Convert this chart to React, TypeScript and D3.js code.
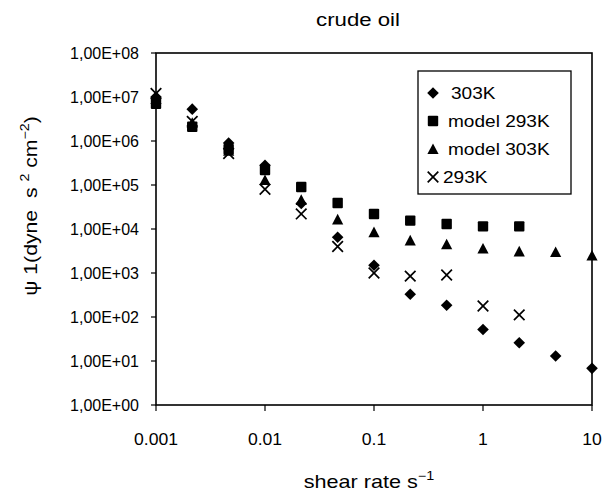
import React from "react";
import * as d3 from "d3";

const shearRates = [0.001, 0.00215, 0.00464, 0.01, 0.0215, 0.0464, 0.1, 0.215, 0.464, 1, 2.15, 4.64, 10];
const data303K = [1.0e7, 5.3e6, 9.0e5, 2.8e5, 3.8e4, 6.5e3, 1.5e3, 330, 185, 52, 26, 13, 6.8];
const model293K = [7.0e6, 2.1e6, 6.5e5, 2.2e5, 9.0e4, 3.9e4, 2.2e4, 1.55e4, 1.3e4, 1.15e4, 1.15e4];
const model303K = [9.0e6, 2.6e6, 6.0e5, 1.3e5, 4.6e4, 1.65e4, 8.5e3, 5.5e3, 4.5e3, 3.6e3, 3.1e3, 3.0e3, 2.5e3];
const data293K = [1.2e7, 2.8e6, 5.2e5, 8.0e4, 2.2e4, 4.0e3, 1.0e3, 850, 900, 178, 112];
const xTicks = [0.001, 0.01, 0.1, 1, 10];
const xTickLabels = ["0.001", "0.01", "0.1", "1", "10"];
const yTicks = [1, 10, 100, 1e3, 1e4, 1e5, 1e6, 1e7, 1e8];
const yTickLabels = ["1,00E+00", "1,00E+01", "1,00E+02", "1,00E+03", "1,00E+04", "1,00E+05", "1,00E+06", "1,00E+07", "1,00E+08"];
const legendLabels = ["303K", "model 293K", "model 303K", "293K"];

const FONT = "'Liberation Sans', Arial, sans-serif";

function Marker({ kind, x, y }: { kind: string; x: number; y: number }) {
  if (kind === "diamond") {
    const s = 5.8;
    return <path d={`M${x},${y - s}L${x + s},${y}L${x},${y + s}L${x - s},${y}Z`} fill="#000" />;
  }
  if (kind === "square") {
    const s = 5.2;
    return <rect x={x - s} y={y - s} width={2 * s} height={2 * s} fill="#000" rx={1} />;
  }
  if (kind === "triangle") {
    const s = 5.6;
    return <path d={`M${x},${y - s}L${x + s},${y + s * 0.9}L${x - s},${y + s * 0.9}Z`} fill="#000" />;
  }
  const s = 5.3;
  return (
    <path d={`M${x - s},${y - s}L${x + s},${y + s}M${x - s},${y + s}L${x + s},${y - s}`} stroke="#000" strokeWidth={1.7} fill="none" />
  );
}

export default function App() {
  const x = d3.scaleLog().domain([0.001, 10]).range([156, 592]);
  const y = d3.scaleLog().domain([1, 1e8]).range([405, 53]);

  const series = [
    { kind: "diamond", values: data303K },
    { kind: "square", values: model293K },
    { kind: "triangle", values: model303K },
    { kind: "x", values: data293K },
  ];

  const rowYs = [93, 121, 149, 177];
  const textXs = [451, 448, 448, 443];

  return (
    <svg width={611} height={491} style={{ position: "absolute", left: 0, top: 0, background: "#fff" }} fontFamily={FONT}>
      <rect x={0} y={0} width={611} height={491} fill="#fff" />
      <g transform="translate(358,26) scale(1.2,1)">
        <text x={0} y={0} textAnchor="middle" fontSize={18.5}>crude oil</text>
      </g>

      {/* frame */}
      <rect x={x(0.001)} y={y(1e8)} width={x(10) - x(0.001)} height={y(1) - y(1e8)} fill="none" stroke="#000" strokeWidth={1.6} />

      {/* y ticks */}
      {yTicks.map((t, i) => (
        <g key={"y" + i}>
          <line x1={x(0.001) - 5} x2={x(0.001)} y1={y(t)} y2={y(t)} stroke="#000" strokeWidth={1.2} />
          <text x={139} y={y(t) + 5.8} textAnchor="end" fontSize={16}>{yTickLabels[i]}</text>
        </g>
      ))}

      {/* x ticks */}
      {xTicks.map((t, i) => (
        <g key={"x" + i}>
          <line x1={x(t)} x2={x(t)} y1={y(1)} y2={y(1) + 6} stroke="#000" strokeWidth={1.2} />
          <g transform={`translate(${x(t)},445) scale(1.1,1)`}>
            <text x={0} y={0} textAnchor="middle" fontSize={16}>{xTickLabels[i]}</text>
          </g>
        </g>
      ))}

      <g transform="translate(369,488) scale(1.2,1)">
        <text x={0} y={0} textAnchor="middle" fontSize={18}>
          shear rate s<tspan dy={-8} fontSize={12}>−1</tspan>
        </text>
      </g>

      <g transform="translate(37,206) rotate(-90) scale(1.18,1)">
        <text x={0} y={0} textAnchor="middle" fontSize={18} style={{ whiteSpace: "pre" }}>
          ψ 1(dyne  s <tspan dy={-8} fontSize={12}>2</tspan><tspan dy={8}> cm</tspan><tspan dy={-8} fontSize={12}>−2</tspan><tspan dy={8}>)</tspan>
        </text>
      </g>

      {series.map((s, si) =>
        s.values.map((v, i) => <Marker key={si + "-" + i} kind={s.kind} x={x(shearRates[i])} y={y(v)} />)
      )}

      {/* legend */}
      <rect x={418} y={71} width={153} height={123} fill="#fff" stroke="#000" strokeWidth={1.3} />
      {series.map((s, i) => (
        <g key={"lg" + i}>
          <Marker kind={s.kind} x={433} y={rowYs[i]} />
          <g transform={`translate(${textXs[i]},${rowYs[i] + 5.8}) scale(1.17,1)`}>
            <text x={0} y={0} fontSize={16.3}>{legendLabels[i]}</text>
          </g>
        </g>
      ))}
    </svg>
  );
}
